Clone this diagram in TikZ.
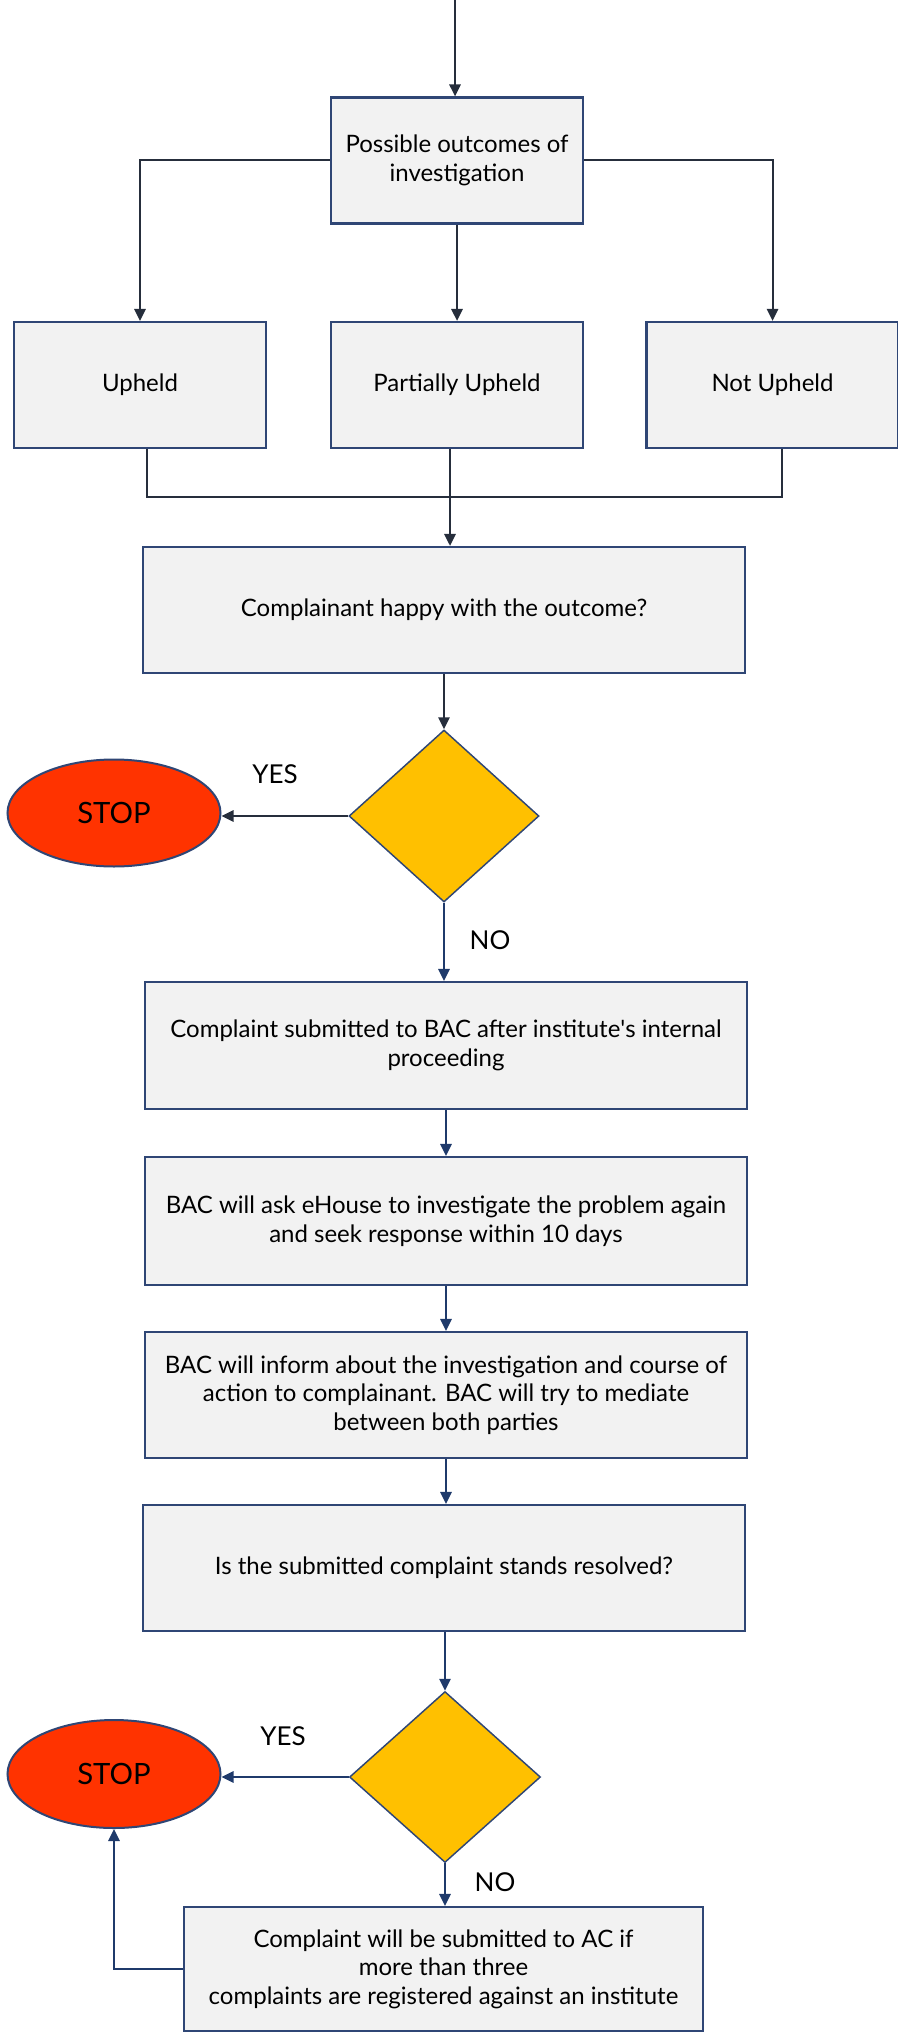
\documentclass[tikz,border=0pt]{standalone}
\usepackage{fontspec}
\setmainfont{Lato}
\usepackage{tikz}
\usetikzlibrary{shapes,arrows.meta,positioning}

\definecolor{boxgray}{HTML}{F2F2F2}
\definecolor{boxline}{HTML}{2F4675}
\definecolor{darkline}{HTML}{262E3C}
\definecolor{flowline}{HTML}{1F3A6B}
\definecolor{decfill}{HTML}{FFC000}
\definecolor{stopfill}{HTML}{FF3300}

\begin{document}
\begin{tikzpicture}[x=0.75pt,y=-0.75pt]
		\tikzstyle{Box}		= [rectangle, draw=boxline, line width=1.7pt, fill=boxgray, align=center, inner sep=2pt, font=\fontsize{18}{21.5}\selectfont]
		\tikzstyle{Wide}	= [minimum width=451.5pt, minimum height=94.5pt]
		\tikzstyle{Small}	= [minimum width=189pt, minimum height=94.5pt]
		\tikzstyle{Decision}	= [diamond, draw=boxline, line width=1.1pt, fill=decfill, inner sep=0pt, minimum width=142.5pt, minimum height=129pt]
		\tikzstyle{Stop}	= [ellipse, draw=boxline, line width=1.5pt, fill=stopfill, inner sep=0pt, minimum width=159.75pt, minimum height=80.25pt, font=\fontsize{22}{26}\selectfont]
		\tikzstyle{Answer}	= [inner sep=0pt, font=\fontsize{19.5}{23}\selectfont]
		\tikzstyle{Arrow}	= [-{Triangle[length=9pt,width=8.5pt]}, line width=1.5pt, darkline]
		\tikzstyle{Flow}	= [-{Triangle[length=9pt,width=8.5pt]}, line width=1.5pt, flowline]
		\tikzstyle{Join}	= [line width=1.5pt, darkline]

		\useasboundingbox (0,0) rectangle (898,2033);

		\coordinate (start) at (455,0);
		\node (outcomes) at (457,160.5) [Box][Small] {Possible outcomes of\\investigation};
		\node (upheld) at (140,385) [Box][Small] {Upheld};
		\node (partial) at (457,385) [Box][Small] {Partially Upheld};
		\node (notupheld) at (772.5,385) [Box][Small] {Not Upheld};
		\coordinate (merge) at (450,497);
		\node (happy) at (444,610) [Box][Wide] {Complainant happy with the outcome?};
		\node (dec1) at (444,816) [Decision] {};
		\node (stop1) at (114,813) [Stop] {STOP};
		\node (yes1) at (275,774) [Answer] {YES};
		\node (no1) at (490,940) [Answer] {NO};
		\node (submitted) at (446,1045.5) [Box][Wide, minimum height=95.25pt] {Complaint submitted to BAC after institute\textquotesingle s internal\\proceeding};
		\node (askhouse) at (446,1221) [Box][Wide, minimum height=96pt] {BAC will ask eHouse to investigate the problem again\\and seek response within 10 days};
		\node (inform) at (446,1395) [Box][Wide] {BAC will inform about the investigation and course of\\action to complainant. BAC will try to mediate\\between both parties};
		\node (resolved) at (444,1568) [Box][Wide] {Is the submitted complaint stands resolved?};
		\node (dec2) at (445,1777) [Decision][minimum width=143.25pt, minimum height=128.25pt] {};
		\node (stop2) at (114,1774) [Stop][minimum height=81pt] {STOP};
		\node (yes2) at (283,1736) [Answer] {YES};
		\node (no2) at (495,1882) [Answer] {NO};
		\node (ac) at (443.5,1969) [Box][minimum width=389.25pt, minimum height=93pt] {Complaint will be submitted to AC if\\more than three\\complaints are registered against an institute};

		\draw [->] (start) to (start |- outcomes.north) [Arrow];
		\draw [->] (outcomes.west) -| (upheld.north) [Arrow];
		\draw [->] (outcomes.south) to (partial.north) [Arrow];
		\draw [->] (outcomes.east) -| (notupheld.north) [Arrow];
		\draw [-] ([xshift=5pt]upheld.south) |- (merge) -| ([xshift=7pt]notupheld.south) [Join];
		\draw [->] (partial.south -| merge) to (merge |- happy.north) [Arrow];
		\draw [->] (happy.south) to (dec1.north) [Arrow];
		\draw [->] (dec1.west) to (dec1.west -| stop1.east) [Arrow];
		\draw [->] (dec1.south) to (dec1.south |- submitted.north) [Flow];
		\draw [->] (submitted.south) to (askhouse.north) [Flow];
		\draw [->] (askhouse.south) to (inform.north) [Flow];
		\draw [->] (inform.south) to (inform.south |- resolved.north) [Flow];
		\draw [->] (resolved.south -| dec2.north) to (dec2.north) [Flow];
		\draw [->] (dec2.west) to (dec2.west -| stop2.east) [Flow];
		\draw [->] (dec2.south) to (dec2.south |- ac.north) [Flow];
		\draw [->] (ac.west) -| (stop2.south) [Flow];
	\end{tikzpicture}
\end{document}
